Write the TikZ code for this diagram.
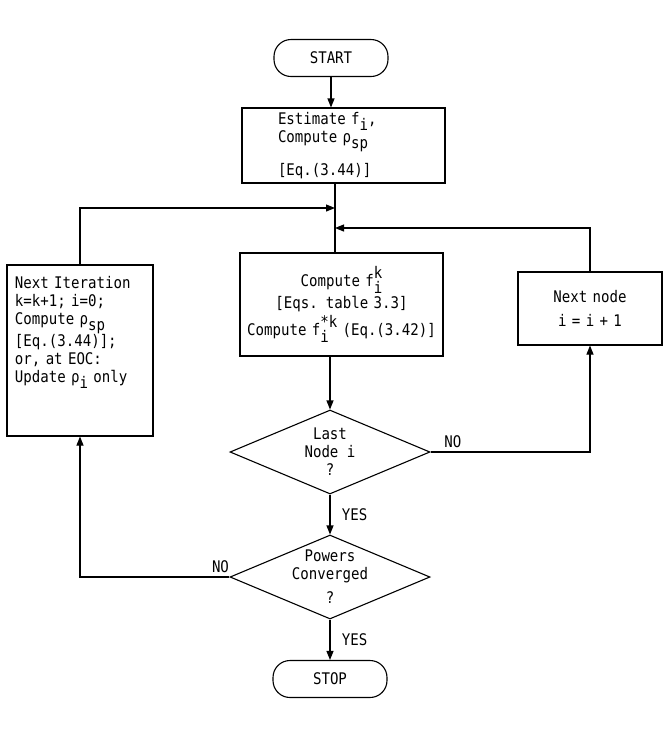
\documentclass[tikz,border=0pt]{standalone}
\usepackage{fontspec}
\setmainfont[FakeStretch=0.88]{DejaVu Sans Mono}
\usepackage{tikz}
\usetikzlibrary{shapes.geometric,arrows.meta}
\newcommand{\lo}[1]{\raisebox{-6pt}{#1}}
\newcommand{\hilo}[2]{\makebox[0pt][l]{\raisebox{-7pt}{#2}}\raisebox{8pt}{#1}}

\begin{document}
\begin{tikzpicture}[x=1pt, y=-1pt,
	every node/.style={font=\fontsize{16}{18}\selectfont},
	box/.style={draw, line width=1.1pt, inner sep=3pt},
	term/.style={box, rounded corners=17pt, minimum width=114pt, minimum height=37pt},
	decision/.style={box, diamond, minimum width=200pt, minimum height=84pt},
	flow/.style={line width=1.1pt, -{Triangle[length=9pt,width=7pt]}},
	link/.style={line width=1.1pt}]
\useasboundingbox (0,0) rectangle (663,732);
\node[term] (start) at (331,58) {START};
\node[box, text width=131pt, inner xsep=36pt, inner ysep=1pt, minimum height=75pt, align=left] (est) at (343.5,145.5)
	{Estimate f\lo{i},\\Compute ρ\lo{sp}\\[10pt][Eq.(3.44)]};
\coordinate (j1) at (335,208);
\coordinate (j2) at (335,228);
\node[box, text width=199pt, inner xsep=2pt, minimum height=103pt, align=center] (comp) at (341.5,304.5)
	{Compute f\hilo{k}{i}\\[2pt][Eqs. table 3.3]\\[2pt]Compute f\hilo{*k}{i} (Eq.(3.42)]};
\node[box, text width=138pt, minimum height=73pt, align=center] (next) at (590,308.5)
	{Next node\\[6pt]i = i + 1};
\node[box, text width=130pt, inner xsep=8pt, minimum height=171pt, align=left] (iter) at (80,350.5)
	{Next Iteration\\k=k+1; i=0;\\Compute ρ\lo{sp}\\[-1pt][Eq.(3.44)];\\or, at EOC:\\Update ρ\lo{i} only\\[24pt]\mbox{}};
\node[decision, label={[align=center]center:Last\\Node i\\?}] (last) at (330,452) {};
\node[decision, label={[align=center]center:Powers\\Converged\\[6pt]?}] (conv) at (330,577) {};
\node[term] (stop) at (330,679) {STOP};

\draw[flow] (start.south) -- (est.north -| start.south);
\draw[link] (est.south -| j1) -- (comp.north -| j1);
\draw[flow] (iter.north) |- (j1);
\draw[flow] (next.north) |- (j2);
\draw[flow] (comp.south -| last.north) -- (last.north);
\draw[flow] (last.east) -| node[pos=0.07, above] {NO} (next.south);
\draw[flow] (last.south) -- node[right=8pt] {YES} (conv.north);
\draw[flow] (conv.west) -| node[pos=0.03, above] {NO} (iter.south);
\draw[flow] (conv.south) -- node[right=8pt] {YES} (stop.north);
\end{tikzpicture}
\end{document}
